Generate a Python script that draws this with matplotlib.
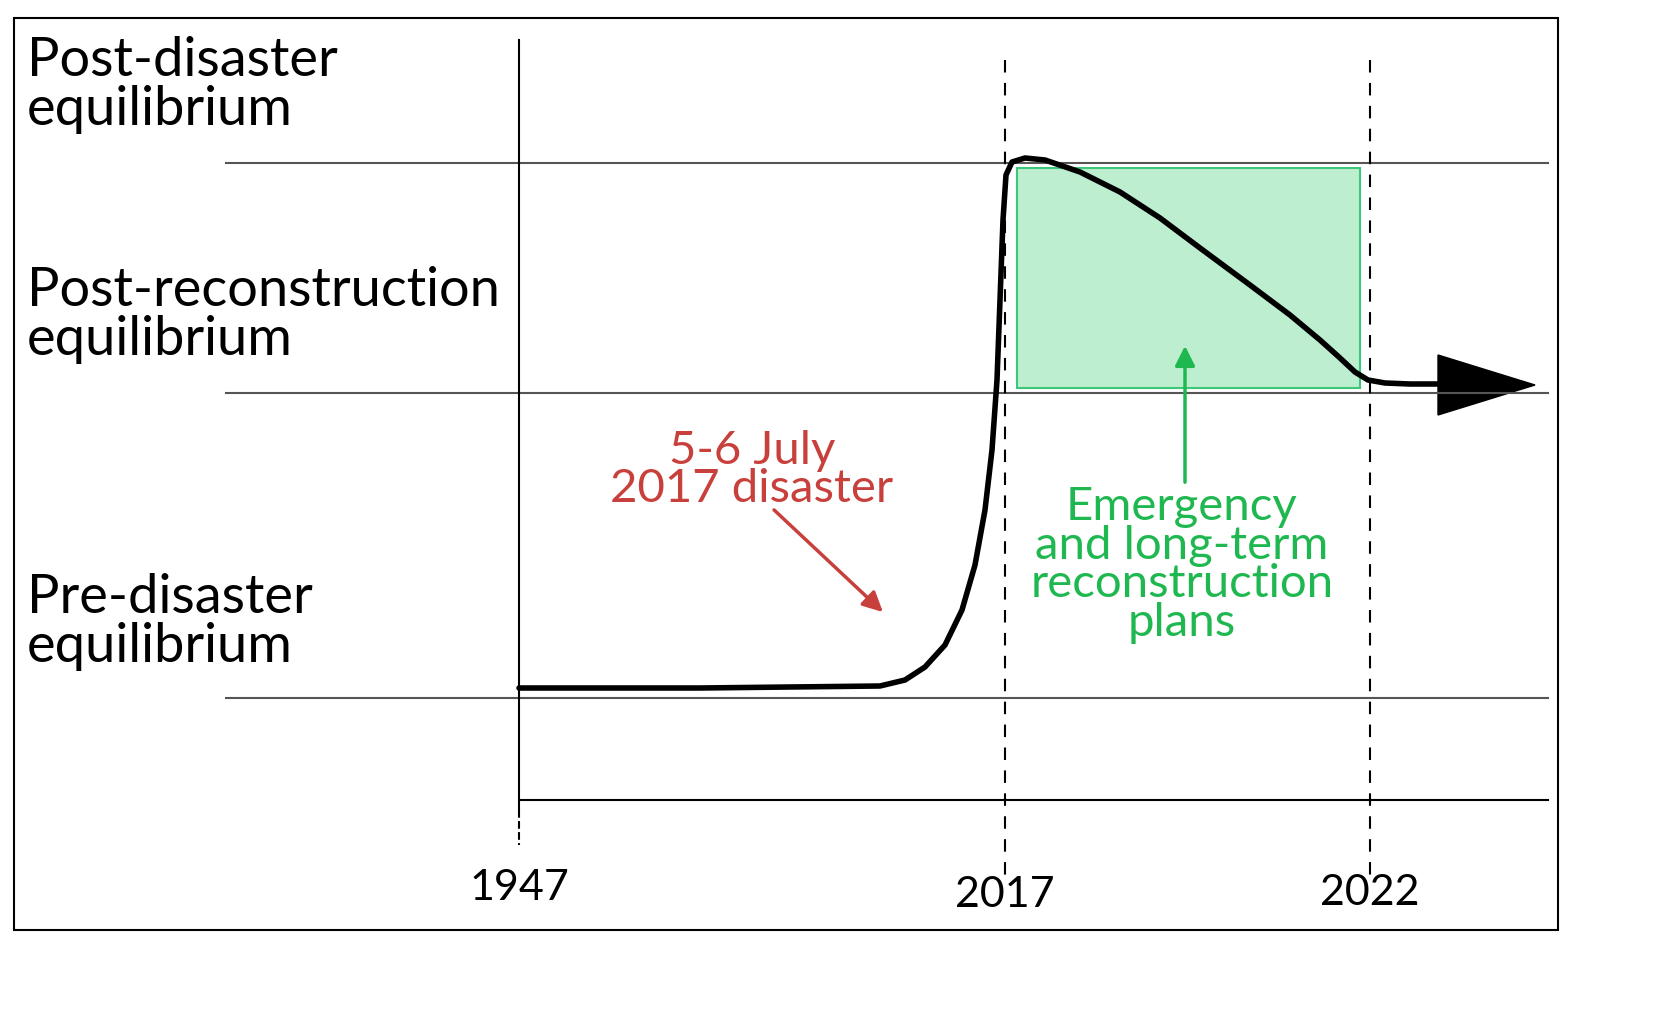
import numpy as np
import matplotlib.pyplot as plt
from matplotlib.patches import Rectangle, Polygon

plt.rcParams['font.family'] = ['Lato', 'DejaVu Sans']

# conceptual trajectory (diagram units: x px, y px from top)
curve_x = [519, 700, 880, 905, 925, 945, 962, 975, 985, 992, 997, 1000, 1003, 1006, 1012, 1025,
           1045, 1080, 1120, 1160, 1200, 1250, 1290, 1320, 1340, 1355, 1368, 1385, 1410, 1440]
curve_y = [688, 688, 686, 680, 667, 645, 610, 565, 510, 450, 380, 300, 220, 175, 162, 158,
           160, 172, 192, 218, 248, 285, 315, 340, 358, 372, 380, 383, 384, 384]
level_y = [163, 393, 698]
level_labels = ['Post-disaster\nequilibrium', 'Post-reconstruction\nequilibrium', 'Pre-disaster\nequilibrium']
label_y = [85, 315, 622]
year_x = [519, 1005, 1370]
year_labels = ['1947', '2017', '2022']
year_label_y = [888, 895, 893]

fig = plt.figure(figsize=(16.73, 10.11), dpi=100)
ax = fig.add_axes([0, 0, 1, 1])
ax.set_xlim(0, 1673)
ax.set_ylim(1011, 0)
ax.axis('off')

ax.add_patch(Rectangle((14, 18), 1544, 912, fill=False, ec='black', lw=1.5))
for y in level_y:
    ax.plot([226, 1548], [y, y], color='#555555', lw=1.5)
ax.plot([520, 1548], [800, 800], color='black', lw=1.5)
ax.plot([519, 519], [40, 810], color='black', lw=1.5)
ax.plot([519, 519], [810, 845], color='black', lw=1.5, ls='--')
for x in year_x[1:]:
    ax.plot([x, x], [60, 880], color='black', lw=1.5, ls=(0, (6, 5)))

ax.add_patch(Rectangle((1017, 168), 343, 220, fc='#bdeed0', ec='#3cc878', lw=1.5))

ax.plot(curve_x, curve_y, color='black', lw=4, solid_capstyle='round', solid_joinstyle='round')
ax.add_patch(Polygon([[1438, 355], [1535, 385], [1438, 415]], closed=True, fc='black', ec='black'))

for t, y in zip(level_labels, label_y):
    ax.text(27, y, t, fontsize=39, va='center', ha='left', linespacing=1.0)
for x, t, y in zip(year_x, year_labels, year_label_y):
    ax.text(x, y, t, fontsize=31, ha='center', va='center')

ax.text(752, 470, '5-6 July\n2017 disaster', fontsize=34, color='#c8403c', ha='center',
        va='center', linespacing=0.9)
ax.annotate('', xy=(885, 614), xytext=(772, 508),
            arrowprops=dict(arrowstyle='-|>,head_length=1.2,head_width=0.6', color='#c8403c', lw=2.5))
ax.text(1182, 565, 'Emergency\nand long-term\nreconstruction\nplans', fontsize=34, color='#1fb850',
        ha='center', va='center', linespacing=0.9)
ax.annotate('', xy=(1185, 343), xytext=(1185, 485),
            arrowprops=dict(arrowstyle='-|>,head_length=1.2,head_width=0.6', color='#1fb850', lw=2.5))

fig.savefig('out.png', dpi=100)
